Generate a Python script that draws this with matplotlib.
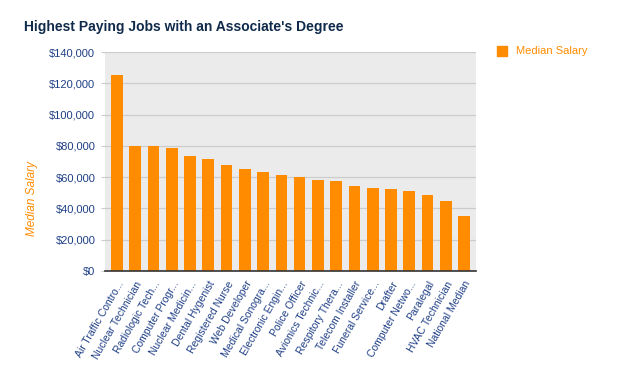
import matplotlib
matplotlib.use('Agg')
from matplotlib import pyplot as plt
from matplotlib.patches import Rectangle
import numpy as np

jobs = ['Air Traffic Contro...', 'Nuclear Technician', 'Radiologic Tech...',
        'Computer Progr...', 'Nuclear Medicin...', 'Dental Hygenist',
        'Registered Nurse', 'Web Developer', 'Medical Sonogra...',
        'Electronic Engin...', 'Police Officer', 'Avionics Technic...',
        'Respitory Thera...', 'Telecom Installer', 'Funeral Service...',
        'Drafter', 'Computer Netwo...', 'Paralegal', 'HVAC Technician',
        'National Median']
salary = [125300, 80200, 80200, 78900, 73200, 71900, 67500, 64900, 63000,
          61100, 59800, 57900, 57300, 54100, 52800, 52200, 50900, 48400,
          44500, 35000]
yticks = [0, 20000, 40000, 60000, 80000, 100000, 120000, 140000]

orange = '#FF8C00'
navy = '#1f3f86'

plt.rcParams['font.family'] = ['Liberation Sans', 'DejaVu Sans']

fig = plt.figure(figsize=(6.26, 3.92), dpi=100)
ax = fig.add_axes([105 / 626, 1 - 271 / 392, 371 / 626, 219 / 392])
ax.set_facecolor('#ebebeb')

x = np.arange(len(jobs))
ax.bar(x, salary, width=0.64, color=orange, zorder=3)

ax.set_ylim(0, 140000)
ax.set_xlim(-0.66, len(jobs) - 0.34)
ax.set_yticks(yticks)
ax.set_yticklabels([f'${v:,}' for v in yticks], color=navy, fontsize=8)
ax.yaxis.grid(True, color='#cccccc', linewidth=0.9, zorder=1)
ax.tick_params(axis='y', length=3, color='#cccccc', pad=4)

ax.set_xticks(x)
ax.set_xticklabels(jobs, rotation=60, ha='right', rotation_mode='anchor',
                   color=navy, fontsize=7.5)
ax.tick_params(axis='x', length=0, pad=6)

for s in ['top', 'right', 'left']:
    ax.spines[s].set_visible(False)
ax.spines['bottom'].set_color('#333333')
ax.spines['bottom'].set_linewidth(1.2)
ax.spines['bottom'].set_zorder(4)

fig.text(24 / 626, 1 - 31 / 392, "Highest Paying Jobs with an Associate's Degree",
         fontsize=10, fontweight='bold', color='#0f2a4a', va='baseline', ha='left')
fig.text(32 / 626, 1 - 199 / 392, 'Median Salary', rotation=90, style='italic',
         color=orange, fontsize=8.5, ha='center', va='center')

# legend
fig.patches.append(Rectangle((497 / 626, 1 - 56 / 392), 10 / 626, 10 / 392,
                             transform=fig.transFigure, color=orange))
fig.text(516 / 626, 1 - 51 / 392, 'Median Salary', color=orange, fontsize=8,
         va='center', ha='left')

plt.savefig('out.png', dpi=100)
